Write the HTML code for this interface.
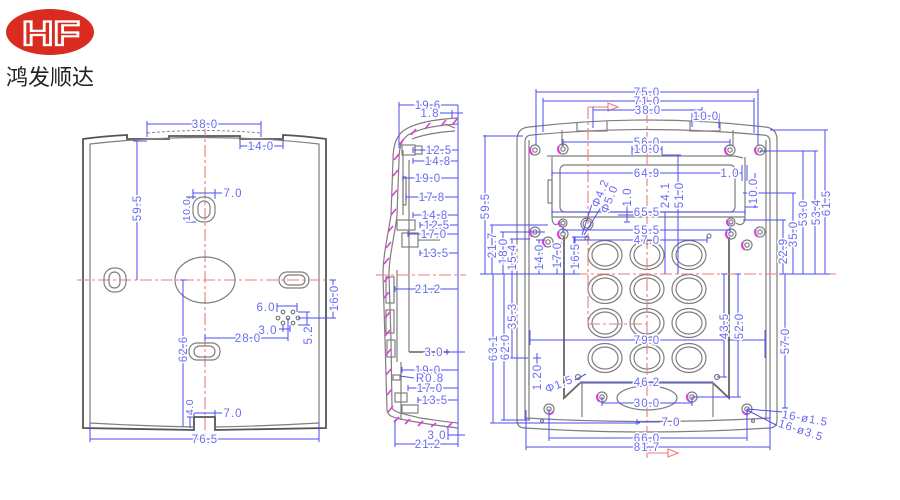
<!DOCTYPE html>
<html><head><meta charset="utf-8"><style>
html,body{margin:0;padding:0;background:#fff;}
svg{display:block}
.g{stroke:#7e7e7e;fill:none;stroke-width:1.2}
.gd{stroke:#666;fill:none;stroke-width:1.8}
.k{stroke:#555;fill:none;stroke-width:1.8}
.d{stroke:#4d4df2;stroke-width:1;fill:none}
.r{stroke:#f07a7a;stroke-width:1.1;fill:none;stroke-dasharray:12 3 3 3}
.t{font-family:"Liberation Sans",sans-serif;font-size:11.5px;letter-spacing:1px;fill:#6a6af0;paint-order:stroke;stroke:#fff;stroke-width:3px;text-anchor:middle}
.s{font-size:10.5px;letter-spacing:0.5px}
.m{stroke:#e03de0;stroke-width:1.6;fill:none}
.mh{stroke:#e03de0;stroke-width:2.2;fill:none}
</style></head><body>
<svg width="900" height="500" viewBox="0 0 900 500" xmlns="http://www.w3.org/2000/svg">
<rect width="900" height="500" fill="#fff"/>

<!-- Logo -->
<ellipse cx="50" cy="32" rx="44" ry="23" fill="#d92b20"/>
<text x="51" y="45" font-family="Liberation Sans, sans-serif" font-weight="bold" font-size="34" fill="#d92b20" stroke="#fff" stroke-width="2.2" text-anchor="middle" textLength="58" lengthAdjust="spacingAndGlyphs">HF</text>
<text x="6" y="85" font-family="Liberation Sans, 'Noto Sans CJK SC', sans-serif" font-size="22" fill="#222">鸿发顺达</text>

<!-- ============ LEFT (back) VIEW ============ -->
<path class="k" d="M83,139 Q105,136 127,135 L127,139 L169,139 L169,136 L240,136 L240,139 L283,139 L283,135 Q305,136 326,139 L326,428 Q270,429 215,430 L215,417 L194,417 L194,430 Q140,429 83,428 Z"/>
<path class="g" d="M90,423 L90,144 Q205,131 319,144 L319,423"/>
<path class="g" d="M90,423 Q142,426 194,427 M215,427 Q267,426 319,423"/>
<path d="M147,133 Q205,128 261,133" stroke="#888" stroke-dasharray="3 2" fill="none"/>
<line class="r" x1="205" y1="124" x2="205" y2="442"/>
<line class="r" x1="77" y1="280" x2="335" y2="280"/>
<ellipse class="g" cx="205" cy="280" rx="30" ry="23"/>
<rect class="g" x="104" y="268" width="22" height="24" rx="10"/>
<rect class="g" x="109" y="272" width="11" height="16" rx="5.5"/>
<rect class="g" x="279" y="272" width="30" height="16" rx="8"/>
<rect class="g" x="284" y="275" width="21" height="10" rx="5"/>
<rect class="g" x="193" y="197" width="22" height="25" rx="10"/>
<rect class="g" x="198" y="201" width="12" height="17" rx="6"/>
<rect class="g" x="189" y="343" width="31" height="17" rx="8"/>
<rect class="g" x="194" y="346" width="21" height="11" rx="5.5"/>
<g class="g" stroke-width="1">
<circle cx="283" cy="312" r="1.8"/><circle cx="293" cy="312" r="1.8"/>
<circle cx="278" cy="318" r="1.8"/><circle cx="288" cy="318" r="1.8"/><circle cx="298" cy="318" r="1.8"/>
<circle cx="283" cy="323" r="1.8"/><circle cx="293" cy="323" r="1.8"/>
</g>
<!-- left view dims -->
<g class="d">
<path d="M147,124 L261,124 M147,121 L147,137 M261,121 L261,137"/>
<path d="M240,146 L283,146 M240,140 L240,149 M283,140 L283,149"/>
<path d="M137,141 L137,280 M133,141 L147,141"/>
<path d="M193,193 L222,193 M193,189 L193,199 M215,189 L215,199"/>
<path d="M189,197 L189,222 M186,197 L196,197 M186,222 L196,222"/>
<path d="M183,280 L183,427 M180,280 L187,280"/>
<path d="M205,338 L288,338 M288,318 L288,341 M205,334 L205,341"/>
<path d="M277,306 L297,306 M277,303 L277,312 M297,303 L297,312"/>
<path d="M279,329 L290,329 M283,325 L283,332 M290,325 L290,332"/>
<path d="M307,312 L307,325 M298,312 L310,312 M298,325 L310,325"/>
<path d="M333,280 L333,318 M298,318 L336,318 M330,280 L336,280"/>
<path d="M190,417 L190,428 M187,417 L194,417"/>
<path d="M194,413 L222,413 M194,410 L194,416 M215,410 L215,416"/>
<path d="M90,439 L319,439 M90,423 L90,442 M319,423 L319,442"/>
</g>
<text class="t" x="205" y="128">38.0</text>
<text class="t" x="261" y="150">14.0</text>
<text class="t" transform="rotate(-90 137 208)" x="137" y="212">59.5</text>
<text class="t" x="233" y="197">7.0</text>
<text class="t s" transform="rotate(-90 186 210)" x="186" y="214">10.0</text>
<text class="t" transform="rotate(-90 183 349)" x="183" y="353">62.6</text>
<text class="t" x="248" y="342">28.0</text>
<text class="t" x="266" y="311">6.0</text>
<text class="t" x="268" y="334">3.0</text>
<text class="t" transform="rotate(-90 308 335)" x="308" y="339">5.2</text>
<text class="t" transform="rotate(-90 334 298)" x="334" y="302">16.0</text>
<text class="t s" transform="rotate(-90 189 407)" x="189" y="411">4.0</text>
<text class="t" x="233" y="417">7.0</text>
<text class="t" x="205" y="443">76.5</text>

<!-- ============ SIDE VIEW ============ -->
<path class="g" d="M458,118 C440,119 415,122 403,131 C396,137 393,146 393,160 L391,215 C388,235 383,255 383,275 L385,340 L387,410 C388,416 392,417 400,419 C420,423 440,426 458,428"/>
<path class="g" d="M458,124 C440,125 420,128 408,135 C401,140 399,148 399,160 L397,215 C395,235 389,255 389,275 L391,340 L392,408 C394,412 400,413 420,418 C435,420 448,422 458,423"/>
<path class="g" d="M412,139 C425,134 440,132 455,131 M445,124 L455,128"/>
<path class="g" d="M403,150 L403,215 M409,160 L409,352 M397,270 L397,362 M401,362 L401,420"/>
<rect class="g" x="402" y="145" width="13" height="10"/>
<rect class="g" x="415" y="146" width="7" height="8"/>
<rect class="g" x="403" y="177" width="3" height="28"/>
<rect class="g" x="397" y="220" width="18" height="10"/>
<rect class="g" x="402" y="233" width="16" height="14"/>
<path class="g" d="M418,240 L440,240"/>
<rect class="g" x="386" y="277" width="8" height="26"/>
<rect class="g" x="386" y="310" width="8" height="23"/>
<rect class="g" x="387" y="340" width="8" height="17"/>
<rect class="g" x="393" y="375" width="7" height="5"/>
<rect class="g" x="395" y="393" width="12" height="9"/>
<rect class="g" x="402" y="405" width="16" height="8"/>
<path d="M409,352 L449,352" stroke="#888" stroke-width="2"/>
<line class="r" x1="376" y1="275" x2="466" y2="275"/>
<g class="m">
<path d="M441,126 L446,120 M452,125 L457,119 M425,129 L430,123 M411,135 L416,129 M399,145 L404,139"/>
<path d="M394,160 L399,154 M393,176 L398,170 M392,196 L397,190 M391,215 L396,209 M388,232 L393,226 M386,248 L391,242 M384,264 L389,258 M384,282 L389,276 M384,298 L389,292 M385,318 L390,312 M385,336 L390,330 M386,355 L391,349 M386,375 L391,369 M387,395 L392,389 M388,412 L393,406"/>
<path d="M394,422 L399,417 M405,424 L410,419 M418,426 L423,421 M431,427 L436,423 M447,428 L452,423"/>
</g>
<!-- side view dims -->
<g class="d">
<path d="M458,105 L458,447"/>
<path d="M399,105 L458,105 M399,102 L399,148"/>
<path d="M440,113 L463,113 M452,110 L452,118"/>
<path d="M413,150 L458,150 M413,147 L413,153"/>
<path d="M413,161 L458,161 M413,158 L413,164"/>
<path d="M403,178 L458,178 M403,175 L403,181"/>
<path d="M406,197 L458,197 M406,194 L406,200"/>
<path d="M413,215 L458,215 M413,212 L413,218"/>
<path d="M420,225 L458,225 M420,222 L420,228"/>
<path d="M408,234 L458,234 M408,231 L408,237"/>
<path d="M420,253 L458,253 M420,250 L420,256"/>
<path d="M395,289 L458,289 M395,286 L395,292"/>
<path d="M447,352 L465,352 M447,349 L447,355"/>
<path d="M402,370 L458,370 M402,367 L402,373"/>
<path d="M400,376 L414,378"/>
<path d="M408,388 L458,388 M408,385 L408,391"/>
<path d="M418,400 L458,400 M418,397 L418,403"/>
<path d="M448,435 L465,435 M448,428 L448,440"/>
<path d="M395,444 L458,444 M395,420 L395,447"/>
</g>
<text class="t" x="428" y="109">19.6</text>
<text class="t" x="430" y="117">1.8</text>
<text class="t" x="439" y="154">12.5</text>
<text class="t" x="438" y="165">14.8</text>
<text class="t" x="428" y="182">19.0</text>
<text class="t" x="432" y="201">17.8</text>
<text class="t" x="435" y="219">14.8</text>
<text class="t" x="437" y="229">12.5</text>
<text class="t" x="434" y="238">17.0</text>
<text class="t" x="436" y="257">13.5</text>
<text class="t" x="428" y="293">21.2</text>
<text class="t" x="434" y="356">3.0</text>
<text class="t" x="428" y="374">19.0</text>
<text class="t" x="430" y="382">R0.8</text>
<text class="t" x="430" y="392">17.0</text>
<text class="t" x="435" y="404">13.5</text>
<text class="t" x="437" y="439">3.0</text>
<text class="t" x="428" y="448">21.2</text>

<!-- ============ FRONT (right) VIEW ============ -->
<path class="g" stroke-width="1.4" d="M517,140 Q517,128 529,127 Q647,113 765,127 Q777,128 777,140 L777,420 Q777,428 769,428 Q647,436 525,428 Q517,428 517,420 Z"/>
<path class="g" d="M525,420 L525,142 Q525,135 532,135 Q647,124 763,135 Q770,135 770,142 L770,420"/>
<path class="g" d="M529,140 L529,420 M766,140 L766,420"/>
<path class="g" d="M525,418 Q647,425 770,418"/>
<path class="g" d="M577,123 L577,131 L607,131 L607,121 M690,121 L690,131 L720,131 L720,122"/>
<path class="g" d="M547,156 L735,156 M562,130 L562,146 M733,130 L733,146 M735,156 L743,158"/>
<path class="g" d="M552,157 L552,217 L745,217 L745,157"/>
<rect class="g" x="560" y="165" width="175" height="47" rx="5"/>
<rect class="g" x="548" y="180" width="4" height="23"/>
<path class="g" d="M552,217 C552,225 556,226 559,223 M745,217 C745,225 740,226 736,223"/>
<path class="gd" d="M564,236 L564,398 L580,383 M729,237 L729,398 L713,383"/>
<path class="g" d="M580,383 L713,383 M582,383 L582,417 M713,383 L713,417"/>
<ellipse class="g" cx="647" cy="398" rx="30" ry="12"/>
<path class="g" d="M529,330 L529,385"/>
<g class="g" stroke-width="1">
<circle cx="709" cy="236" r="2"/><circle cx="587" cy="238" r="2"/>
<circle cx="578" cy="377" r="2.5"/><circle cx="717" cy="377" r="2.5"/>
<circle cx="542" cy="421" r="1.5"/><circle cx="753" cy="421" r="1.5"/>
</g>
<circle class="g" cx="587" cy="224" r="6"/><circle class="g" cx="587" cy="224" r="4"/>
<!-- holes with magenta -->
<g>
<circle class="g" cx="535" cy="150" r="5"/><circle class="g" cx="535" cy="150" r="2.2"/><path class="mh" d="M530.7,147.5 A5,5 0 0 0 532.5,154.3"/>
<circle class="g" cx="563" cy="149" r="5"/><circle class="g" cx="563" cy="149" r="2.2"/><path class="mh" d="M558.7,146.5 A5,5 0 0 0 560.5,153.3"/>
<circle class="g" cx="730" cy="150" r="5"/><circle class="g" cx="730" cy="150" r="2.2"/><path class="mh" d="M725.7,147.5 A5,5 0 0 0 727.5,154.3"/>
<circle class="g" cx="760" cy="150" r="5"/><circle class="g" cx="760" cy="150" r="2.2"/><path class="mh" d="M755.7,147.5 A5,5 0 0 0 757.5,154.3"/>
<circle class="g" cx="535" cy="232" r="5"/><circle class="g" cx="535" cy="232" r="2.2"/><path class="mh" d="M530.7,229.5 A5,5 0 0 0 532.5,236.3"/>
<circle class="g" cx="548" cy="242" r="5"/><circle class="g" cx="548" cy="242" r="2.2"/><path class="mh" d="M543.7,239.5 A5,5 0 0 0 545.5,246.3"/>
<circle class="g" cx="563" cy="223" r="4"/><circle class="g" cx="563" cy="223" r="2"/><path class="mh" d="M559.5,221 A4,4 0 0 0 561,226.5"/>
<circle class="g" cx="563" cy="234" r="5"/><circle class="g" cx="563" cy="234" r="2.2"/><path class="mh" d="M558.7,231.5 A5,5 0 0 0 560.5,238.3"/>
<circle class="g" cx="731" cy="222" r="4"/><circle class="g" cx="731" cy="222" r="2"/><path class="mh" d="M727.5,220 A4,4 0 0 0 729,225.5"/>
<circle class="g" cx="731" cy="234" r="5"/><circle class="g" cx="731" cy="234" r="2.2"/><path class="mh" d="M726.7,231.5 A5,5 0 0 0 728.5,238.3"/>
<circle class="g" cx="760" cy="232" r="5"/><circle class="g" cx="760" cy="232" r="2.2"/><path class="mh" d="M755.7,229.5 A5,5 0 0 0 757.5,236.3"/>
<circle class="g" cx="747" cy="245" r="5"/><circle class="g" cx="747" cy="245" r="2.2"/><path class="mh" d="M742.7,242.5 A5,5 0 0 0 744.5,249.3"/>
<circle class="g" cx="602" cy="397" r="5"/><circle class="g" cx="602" cy="397" r="2.2"/><path class="mh" d="M597.7,394.5 A5,5 0 0 0 599.5,401.3"/>
<circle class="g" cx="692" cy="397" r="5"/><circle class="g" cx="692" cy="397" r="2.2"/><path class="mh" d="M687.7,394.5 A5,5 0 0 0 689.5,401.3"/>
<circle class="g" cx="549" cy="409" r="5"/><circle class="g" cx="549" cy="409" r="2.2"/><path class="mh" d="M549,414 A5,5 0 0 0 553.3,411.5"/>
<circle class="g" cx="747" cy="409" r="5"/><circle class="g" cx="747" cy="409" r="2.2"/><path class="mh" d="M742.7,411.5 A5,5 0 0 0 748,414"/>
</g>
<!-- keypad -->
<g class="g" stroke-width="1.3">
<ellipse cx="605" cy="255" rx="17" ry="14.5"/><ellipse cx="605" cy="255" rx="13" ry="11"/>
<ellipse cx="647" cy="255" rx="17" ry="14.5"/><ellipse cx="647" cy="255" rx="13" ry="11"/>
<ellipse cx="689" cy="255" rx="17" ry="14.5"/><ellipse cx="689" cy="255" rx="13" ry="11"/>
<ellipse cx="605" cy="289" rx="17" ry="14.5"/><ellipse cx="605" cy="289" rx="13" ry="11"/>
<ellipse cx="647" cy="289" rx="17" ry="14.5"/><ellipse cx="647" cy="289" rx="13" ry="11"/>
<ellipse cx="689" cy="289" rx="17" ry="14.5"/><ellipse cx="689" cy="289" rx="13" ry="11"/>
<ellipse cx="605" cy="323" rx="17" ry="14.5"/><ellipse cx="605" cy="323" rx="13" ry="11"/>
<ellipse cx="647" cy="323" rx="17" ry="14.5"/><ellipse cx="647" cy="323" rx="13" ry="11"/>
<ellipse cx="689" cy="323" rx="17" ry="14.5"/><ellipse cx="689" cy="323" rx="13" ry="11"/>
<ellipse cx="605" cy="358" rx="17" ry="14.5"/><ellipse cx="605" cy="358" rx="13" ry="11"/>
<ellipse cx="647" cy="358" rx="17" ry="14.5"/><ellipse cx="647" cy="358" rx="13" ry="11"/>
<ellipse cx="689" cy="358" rx="17" ry="14.5"/><ellipse cx="689" cy="358" rx="13" ry="11"/>
</g>
<!-- red lines -->
<line class="r" x1="647" y1="90" x2="647" y2="458"/>
<line class="r" x1="513" y1="274" x2="836" y2="274" stroke-dasharray="8 4"/>
<line class="r" x1="588" y1="107" x2="588" y2="324" stroke-dasharray="8 4"/>
<line class="r" x1="588" y1="324" x2="647" y2="324" stroke-dasharray="8 4"/>
<path d="M588,107 L608,107 M608,103 L618,107 L608,111 Z" stroke="#f07a7a" fill="none" stroke-width="1.1"/>
<path d="M648,453 L668,453 M668,449 L678,453 L668,457 Z" stroke="#f07a7a" fill="none" stroke-width="1.1"/>
<!-- front view dims -->
<g class="d">
<path d="M536,92 L758,92 M536,89 L536,145 M758,89 L758,145"/>
<path d="M543,101 L754,101 M543,98 L543,132 M754,98 L754,133"/>
<path d="M593,110 L702,110 M593,107 L593,128 M702,107 L702,122"/>
<path d="M692,116 L720,116 M692,113 L692,127 M719,113 L719,128"/>
<path d="M563,142 L730,142 M563,139 L563,146 M730,139 L730,146"/>
<path d="M632,149 L662,149 M632,146 L632,155 M662,146 L662,155"/>
<path d="M552,173 L722,173 M552,170 L552,176"/>
<path d="M742,165 L742,181 M747,165 L747,181 M738,173 L742,173"/>
<path d="M552,212 L745,212 M552,209 L552,215 M745,209 L745,215"/>
<path d="M563,230 L730,230 M563,227 L563,233 M730,227 L730,233"/>
<path d="M575,240 L707,240 M575,237 L575,243 M707,237 L707,243"/>
<path d="M530,340 L765,340 M530,330 L530,345 M765,330 L765,358"/>
<path d="M580,382 L713,382"/>
<path d="M602,403 L692,403 M602,397 L602,406 M692,397 L692,406"/>
<path d="M637,422 L660,422 M637,419 L637,425"/>
<path d="M549,438 L747,438 M549,409 L549,441 M747,409 L747,441"/>
<path d="M526,447 L770,447 M526,410 L526,450 M770,410 L770,450"/>
<path d="M485,135 L485,274 M483,136 L523,136"/>
<path d="M492,225 L492,274 M490,225 L548,225"/>
<path d="M503,232 L503,274 M500,232 L545,232"/>
<path d="M512,239 L512,274 M510,239 L530,239"/>
<path d="M539,240 L539,274 M536,240 L545,240"/>
<path d="M557,243 L557,274 M554,243 L562,243"/>
<path d="M574,237 L574,274 M572,237 L588,237"/>
<path d="M480,274 L580,274"/>
<path d="M493,274 L493,423 M490,423 L640,423"/>
<path d="M504,274 L504,420 M501,420 L530,420"/>
<path d="M512,274 L512,358 M510,358 L528,358"/>
<path d="M537,353 L537,364 M533,358 L541,358"/>
<path d="M575,380 L586,374"/>
<path d="M582,235 L593,201 M584,235 L603,204"/>
<path d="M627,205 L627,222 M624,205 L630,205 M624,222 L630,222 M618,215 L640,215"/>
<path d="M665,212 L665,274 M662,212 L668,212"/>
<path d="M678,155 L678,274 M662,155 L681,155"/>
<path d="M755,173 L755,208 M745,207 L758,207"/>
<path d="M825,130 L825,274 M770,130 L828,130"/>
<path d="M815,151 L815,274 M803,151 L803,274 M760,151 L818,151"/>
<path d="M793,193 L793,274 M743,193 L796,193"/>
<path d="M783,220 L783,274 M743,220 L786,220"/>
<path d="M779,274 L830,274"/>
<path d="M724,274 L724,377 M717,377 L727,377 M721,274 L727,274"/>
<path d="M738,274 L738,397 M692,397 L741,397 M735,274 L741,274"/>
<path d="M785,274 L785,408 M782,408 L788,408"/>
<path d="M747,409 L783,412 M747,410 L778,426"/>
</g>
<text class="t" x="647" y="96">75.0</text>
<text class="t" x="647" y="105">71.0</text>
<text class="t" x="648" y="114">38.0</text>
<text class="t" x="706" y="120">10.0</text>
<text class="t" x="647" y="146">56.0</text>
<text class="t" x="647" y="153">10.0</text>
<text class="t" x="647" y="177">64.9</text>
<text class="t" x="730" y="177">1.0</text>
<text class="t" x="647" y="216">65.5</text>
<text class="t" x="647" y="234">55.5</text>
<text class="t" x="647" y="244">47.0</text>
<text class="t" x="647" y="344">79.0</text>
<text class="t" x="647" y="386">46.2</text>
<text class="t" x="647" y="407">30.0</text>
<text class="t" x="671" y="426">7.0</text>
<text class="t" x="647" y="442">66.0</text>
<text class="t" x="647" y="451">81.7</text>
<text class="t" transform="rotate(-90 485 206)" x="485" y="210">59.5</text>
<text class="t" transform="rotate(-90 492 245)" x="492" y="249">21.7</text>
<text class="t" transform="rotate(-90 503 251)" x="503" y="255">18.0</text>
<text class="t" transform="rotate(-90 512 257)" x="512" y="261">15.4</text>
<text class="t" transform="rotate(-90 539 257)" x="539" y="261">14.0</text>
<text class="t" transform="rotate(-90 557 255)" x="557" y="259">17.0</text>
<text class="t" transform="rotate(-90 575 256)" x="575" y="260">16.5</text>
<text class="t" transform="rotate(-90 493 348)" x="493" y="352">63.1</text>
<text class="t" transform="rotate(-90 505 347)" x="505" y="351">62.0</text>
<text class="t" transform="rotate(-90 512 316)" x="512" y="320">35.3</text>
<text class="t" transform="rotate(-90 537 377)" x="537" y="381">1.20</text>
<text class="t" transform="rotate(-22 559 384)" x="559" y="388">Φ1.5</text>
<text class="t" transform="rotate(-68 600 193)" x="600" y="197">Φ4.2</text>
<text class="t" transform="rotate(-68 609 199)" x="609" y="203">Φ5.0</text>
<text class="t" transform="rotate(-90 627 197)" x="627" y="201">1.0</text>
<text class="t" transform="rotate(-90 665 195)" x="665" y="199">24.1</text>
<text class="t" transform="rotate(-90 679 195)" x="679" y="199">51.0</text>
<text class="t" transform="rotate(-90 753 191)" x="753" y="195">10.0</text>
<text class="t" transform="rotate(-90 826 203)" x="826" y="207">61.5</text>
<text class="t" transform="rotate(-90 816 212)" x="816" y="216">53.4</text>
<text class="t" transform="rotate(-90 803 213)" x="803" y="217">53.0</text>
<text class="t" transform="rotate(-90 793 234)" x="793" y="238">35.0</text>
<text class="t" transform="rotate(-90 783 251)" x="783" y="255">22.9</text>
<text class="t" transform="rotate(-90 724 326)" x="724" y="330">43.5</text>
<text class="t" transform="rotate(-90 739 326)" x="739" y="330">52.0</text>
<text class="t" transform="rotate(-90 785 341)" x="785" y="345">57.0</text>
<text class="t" transform="rotate(10 805 418)" x="805" y="422">16-ø1.5</text>
<text class="t" transform="rotate(18 801 430)" x="801" y="434">16-ø3.5</text>
</svg>
</body></html>
